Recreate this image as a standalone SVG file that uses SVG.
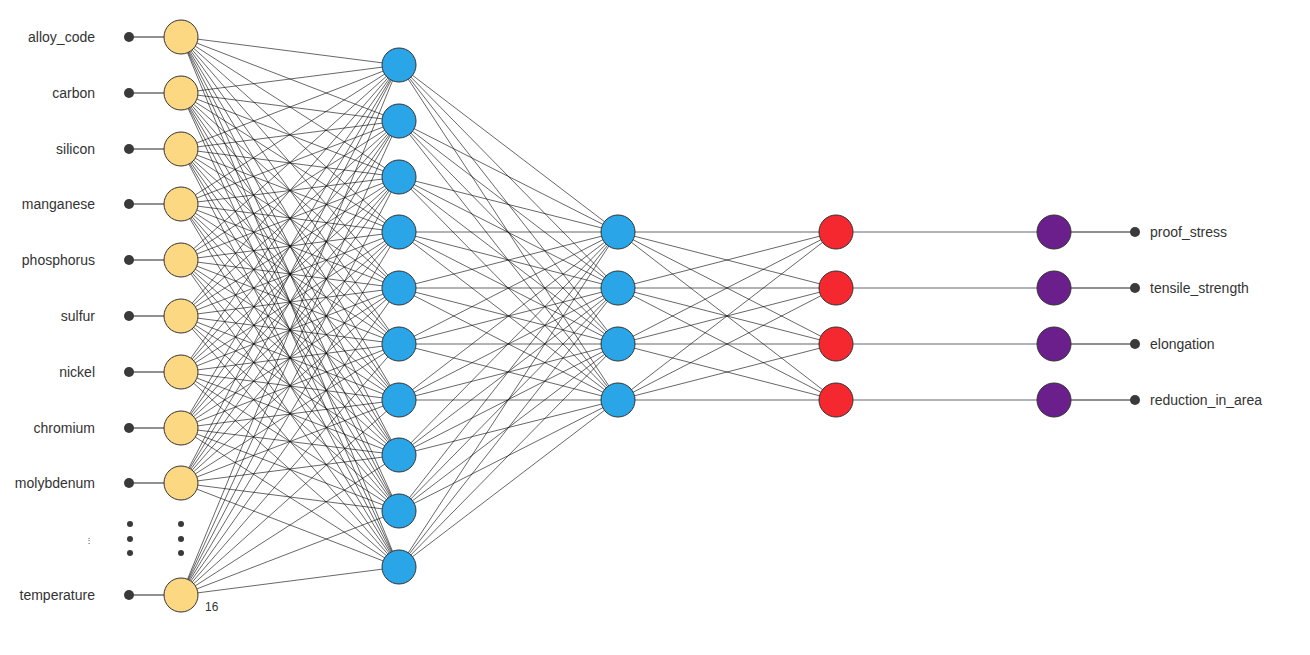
<svg xmlns="http://www.w3.org/2000/svg" width="1310" height="655" viewBox="0 0 1310 655">
<style>
.c{stroke:#000;stroke-width:0.6;fill:none}
.s{stroke:#222;stroke-width:1.2;fill:none}
.i{fill:#fdd882;stroke:#333;stroke-width:1}
.h{fill:#2aa6e8;stroke:#333;stroke-width:1}
.r{fill:#f5272f;stroke:#333;stroke-width:1}
.p{fill:#6a1f8c;stroke:#333;stroke-width:1}
.d{fill:#3a3a3a}
text{font-family:"Liberation Sans",Arial,sans-serif;font-size:14px;fill:#333}
.l{text-anchor:end}
</style>
<rect width="1310" height="655" fill="#fff"/>
<g id="connectors">
<path class="c" d="M181 37L399 65M181 37L399 121M181 37L399 177M181 37L399 232M181 37L399 288M181 37L399 344M181 37L399 400M181 37L399 455M181 37L399 511M181 37L399 567
M181 93L399 65M181 93L399 121M181 93L399 177M181 93L399 232M181 93L399 288M181 93L399 344M181 93L399 400M181 93L399 455M181 93L399 511M181 93L399 567
M181 149L399 65M181 149L399 121M181 149L399 177M181 149L399 232M181 149L399 288M181 149L399 344M181 149L399 400M181 149L399 455M181 149L399 511M181 149L399 567
M181 204L399 65M181 204L399 121M181 204L399 177M181 204L399 232M181 204L399 288M181 204L399 344M181 204L399 400M181 204L399 455M181 204L399 511M181 204L399 567
M181 260L399 65M181 260L399 121M181 260L399 177M181 260L399 232M181 260L399 288M181 260L399 344M181 260L399 400M181 260L399 455M181 260L399 511M181 260L399 567
M181 316L399 65M181 316L399 121M181 316L399 177M181 316L399 232M181 316L399 288M181 316L399 344M181 316L399 400M181 316L399 455M181 316L399 511M181 316L399 567
M181 372L399 65M181 372L399 121M181 372L399 177M181 372L399 232M181 372L399 288M181 372L399 344M181 372L399 400M181 372L399 455M181 372L399 511M181 372L399 567
M181 428L399 65M181 428L399 121M181 428L399 177M181 428L399 232M181 428L399 288M181 428L399 344M181 428L399 400M181 428L399 455M181 428L399 511M181 428L399 567
M181 483L399 65M181 483L399 121M181 483L399 177M181 483L399 232M181 483L399 288M181 483L399 344M181 483L399 400M181 483L399 455M181 483L399 511M181 483L399 567
M181 595L399 65M181 595L399 121M181 595L399 177M181 595L399 232M181 595L399 288M181 595L399 344M181 595L399 400M181 595L399 455M181 595L399 511M181 595L399 567"/>
<path class="c" d="M399 65L618 232M399 65L618 288M399 65L618 344M399 65L618 400
M399 121L618 232M399 121L618 288M399 121L618 344M399 121L618 400
M399 177L618 232M399 177L618 288M399 177L618 344M399 177L618 400
M399 232L618 232M399 232L618 288M399 232L618 344M399 232L618 400
M399 288L618 232M399 288L618 288M399 288L618 344M399 288L618 400
M399 344L618 232M399 344L618 288M399 344L618 344M399 344L618 400
M399 400L618 232M399 400L618 288M399 400L618 344M399 400L618 400
M399 455L618 232M399 455L618 288M399 455L618 344M399 455L618 400
M399 511L618 232M399 511L618 288M399 511L618 344M399 511L618 400
M399 567L618 232M399 567L618 288M399 567L618 344M399 567L618 400"/>
<path class="c" d="M618 232L836 232M618 232L836 288M618 232L836 344M618 232L836 400
M618 288L836 232M618 288L836 288M618 288L836 344M618 288L836 400
M618 344L836 232M618 344L836 288M618 344L836 344M618 344L836 400
M618 400L836 232M618 400L836 288M618 400L836 344M618 400L836 400
M836 232L1054 232M836 288L1054 288M836 344L1054 344M836 400L1054 400"/>
<path class="s" d="M1054 232L1135 232M1054 288L1135 288M1054 344L1135 344M1054 400L1135 400
M129 37L181 37M129 93L181 93M129 149L181 149M129 204L181 204M129 260L181 260M129 316L181 316M129 372L181 372M129 428L181 428M129 483L181 483M129 595L181 595"/>
</g>
<g id="inputs">
<circle class="d" cx="129" cy="37" r="5"/><circle class="d" cx="129" cy="93" r="5"/><circle class="d" cx="129" cy="149" r="5"/><circle class="d" cx="129" cy="204" r="5"/><circle class="d" cx="129" cy="260" r="5"/><circle class="d" cx="129" cy="316" r="5"/><circle class="d" cx="129" cy="372" r="5"/><circle class="d" cx="129" cy="428" r="5"/><circle class="d" cx="129" cy="483" r="5"/><circle class="d" cx="129" cy="595" r="5"/>
<circle class="d" cx="130" cy="524" r="3"/><circle class="d" cx="130" cy="539" r="3"/><circle class="d" cx="130" cy="553" r="3"/>
<circle class="d" cx="181" cy="524" r="3"/><circle class="d" cx="181" cy="539" r="3"/><circle class="d" cx="181" cy="553" r="3"/>
<text class="l" x="95" y="42">alloy_code</text>
<text class="l" x="95" y="98">carbon</text>
<text class="l" x="95" y="154">silicon</text>
<text class="l" x="95" y="209">manganese</text>
<text class="l" x="95" y="265">phosphorus</text>
<text class="l" x="95" y="321">sulfur</text>
<text class="l" x="95" y="377">nickel</text>
<text class="l" x="95" y="433">chromium</text>
<text class="l" x="95" y="488">molybdenum</text>
<text class="l" x="93" y="543" style="font-size:8px">⋮</text>
<text class="l" x="95" y="600">temperature</text>
</g>
<g id="layer1">
<circle class="i" cx="181" cy="37" r="17"/><circle class="i" cx="181" cy="93" r="17"/><circle class="i" cx="181" cy="149" r="17"/><circle class="i" cx="181" cy="204" r="17"/><circle class="i" cx="181" cy="260" r="17"/><circle class="i" cx="181" cy="316" r="17"/><circle class="i" cx="181" cy="372" r="17"/><circle class="i" cx="181" cy="428" r="17"/><circle class="i" cx="181" cy="483" r="17"/><circle class="i" cx="181" cy="595" r="17"/>
<text x="205" y="611" style="font-size:12px">16</text>
</g>
<g id="layer2">
<circle class="h" cx="399" cy="65" r="17"/><circle class="h" cx="399" cy="121" r="17"/><circle class="h" cx="399" cy="177" r="17"/><circle class="h" cx="399" cy="232" r="17"/><circle class="h" cx="399" cy="288" r="17"/><circle class="h" cx="399" cy="344" r="17"/><circle class="h" cx="399" cy="400" r="17"/><circle class="h" cx="399" cy="455" r="17"/><circle class="h" cx="399" cy="511" r="17"/><circle class="h" cx="399" cy="567" r="17"/>
</g>
<g id="layer3">
<circle class="h" cx="618" cy="232" r="17"/><circle class="h" cx="618" cy="288" r="17"/><circle class="h" cx="618" cy="344" r="17"/><circle class="h" cx="618" cy="400" r="17"/>
</g>
<g id="layer4">
<circle class="r" cx="836" cy="232" r="17"/><circle class="r" cx="836" cy="288" r="17"/><circle class="r" cx="836" cy="344" r="17"/><circle class="r" cx="836" cy="400" r="17"/>
</g>
<g id="layer5">
<circle class="p" cx="1054" cy="232" r="17"/><circle class="p" cx="1054" cy="288" r="17"/><circle class="p" cx="1054" cy="344" r="17"/><circle class="p" cx="1054" cy="400" r="17"/>
</g>
<g id="outputs">
<circle class="d" cx="1135" cy="232" r="5"/><circle class="d" cx="1135" cy="288" r="5"/><circle class="d" cx="1135" cy="344" r="5"/><circle class="d" cx="1135" cy="400" r="5"/>
<text x="1150" y="237">proof_stress</text>
<text x="1150" y="293">tensile_strength</text>
<text x="1150" y="349">elongation</text>
<text x="1150" y="405">reduction_in_area</text>
</g>
</svg>
